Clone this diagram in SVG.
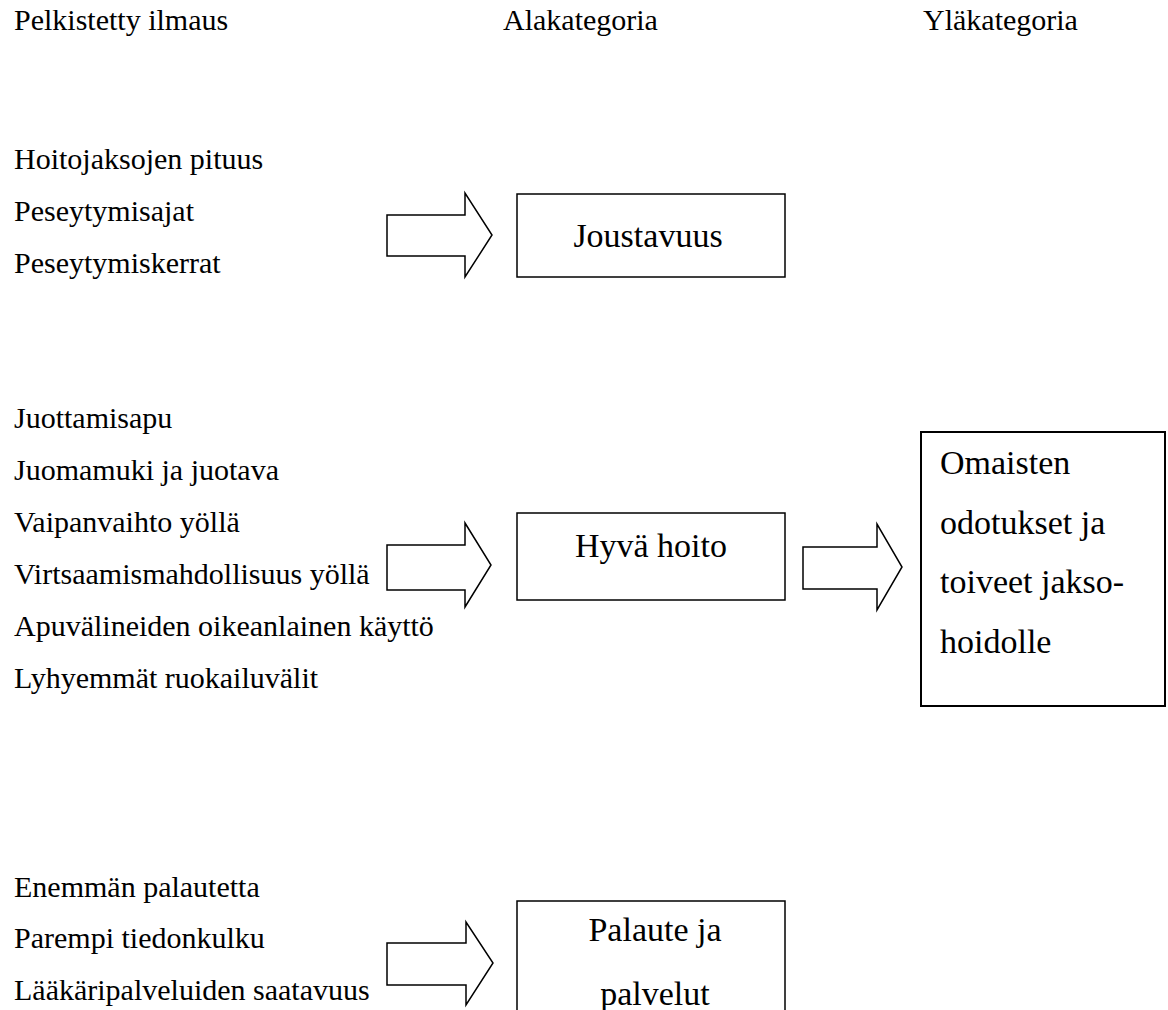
<svg xmlns="http://www.w3.org/2000/svg" width="1168" height="1010" viewBox="0 0 1168 1010">
<style>
text{font-family:"Liberation Serif","Times New Roman",serif;fill:#000}
.h{font-size:30px}
.l{font-size:30px}
.b{font-size:34px}
.c{text-anchor:middle}
.box{fill:#fff;stroke:#000;stroke-width:1.5}
.arr{fill:#fff;stroke:#000;stroke-width:1.5;stroke-linejoin:miter}
</style>
<rect width="1168" height="1010" fill="#fff"/>
<g id="headers">
<text class="h" x="14" y="30">Pelkistetty ilmaus</text>
<text class="h" x="503" y="30">Alakategoria</text>
<text class="h" x="923" y="30">Yläkategoria</text>
</g>
<g id="list1">
<text class="l" x="14" y="169">Hoitojaksojen pituus</text>
<text class="l" x="14" y="221">Peseytymisajat</text>
<text class="l" x="14" y="273">Peseytymiskerrat</text>
</g>
<g id="list2">
<text class="l" x="14" y="428">Juottamisapu</text>
<text class="l" x="14" y="480">Juomamuki ja juotava</text>
<text class="l" x="14" y="532">Vaipanvaihto yöllä</text>
<text class="l" x="14" y="584">Virtsaamismahdollisuus yöllä</text>
<text class="l" x="14" y="636">Apuvälineiden oikeanlainen käyttö</text>
<text class="l" x="14" y="688">Lyhyemmät ruokailuvälit</text>
</g>
<g id="list3">
<text class="l" x="14" y="897">Enemmän palautetta</text>
<text class="l" x="14" y="948">Parempi tiedonkulku</text>
<text class="l" x="14" y="1000">Lääkäripalveluiden saatavuus</text>
</g>
<g id="joustavuus">
<rect class="box" x="517" y="194" width="268" height="83"/>
<text class="b c" x="648" y="247">Joustavuus</text>
</g>
<g id="hyva-hoito">
<rect class="box" x="517" y="513" width="268" height="87"/>
<text class="b c" x="651" y="557">Hyvä hoito</text>
</g>
<g id="palaute">
<rect class="box" x="517" y="901" width="268" height="130"/>
<text class="b c" x="655" y="941">Palaute ja</text>
<text class="b c" x="655" y="1005">palvelut</text>
</g>
<g id="omaisten">
<rect class="box" x="921" y="432" width="244" height="274" style="stroke-width:2"/>
<text class="b" x="940" y="474">Omaisten</text>
<text class="b" x="940" y="534">odotukset ja</text>
<text class="b" x="940" y="593">toiveet jakso-</text>
<text class="b" x="940" y="653">hoidolle</text>
</g>
<g id="connectors">
<polygon class="arr" points="387,215 465,215 465,193 492,235 465,277 465,256 387,256"/>
<polygon class="arr" points="387,545 465,545 465,523 491,565 465,607 465,590 387,590"/>
<polygon class="arr" points="387,943 466,943 466,922 493,963 466,1005 466,985 387,985"/>
<polygon class="arr" points="803,547 877,547 877,524 902,567 877,610 877,589 803,589"/>
</g>
</svg>
